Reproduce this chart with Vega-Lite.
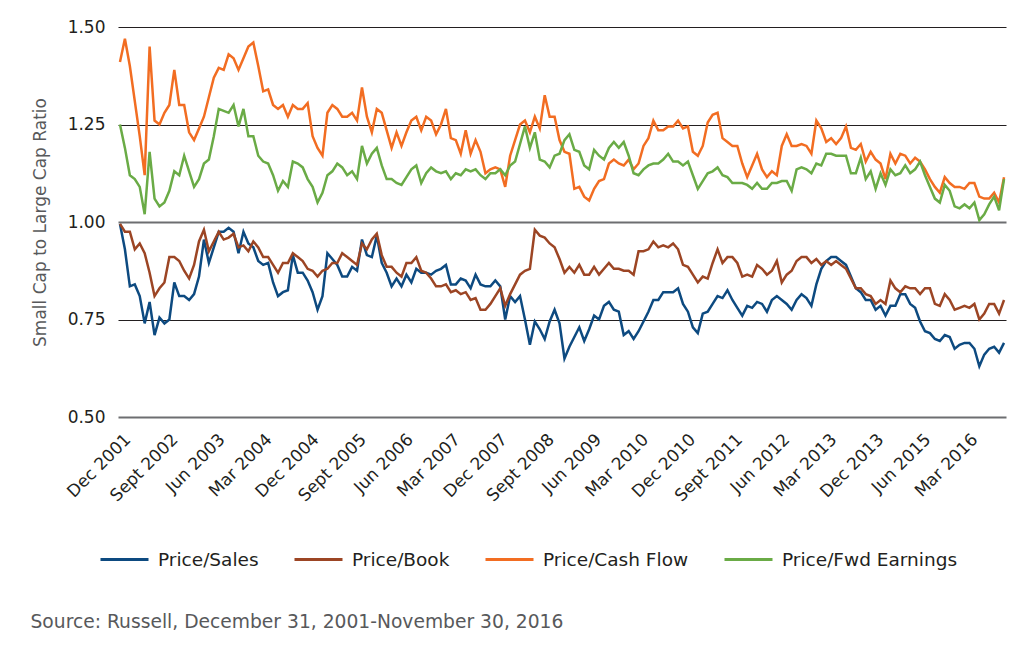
{
"$schema":"https://vega.github.io/schema/vega-lite/v6.json",
"width":888,"height":390,
"autosize":{"type":"none"},
"padding":{"left":118,"top":27,"right":18,"bottom":235},
"background":"white",
"config":{"view":{"stroke":null},"font":"DejaVu Sans"},
"datasets":{
"names":[{"k":"ps","series":"Price/Sales"},{"k":"pb","series":"Price/Book"},{"k":"pcf","series":"Price/Cash Flow"},{"k":"pfe","series":"Price/Fwd Earnings"}],
"monthly":[
{"i":0,"ps":0.995,"pb":0.995,"pcf":1.41,"pfe":1.25},
{"i":1,"ps":0.93,"pb":0.975,"pcf":1.47,"pfe":1.19},
{"i":2,"ps":0.835,"pb":0.975,"pcf":1.40,"pfe":1.12},
{"i":3,"ps":0.84,"pb":0.93,"pcf":1.31,"pfe":1.11},
{"i":4,"ps":0.81,"pb":0.945,"pcf":1.22,"pfe":1.09},
{"i":5,"ps":0.74,"pb":0.92,"pcf":1.12,"pfe":1.02},
{"i":6,"ps":0.795,"pb":0.87,"pcf":1.45,"pfe":1.18},
{"i":7,"ps":0.71,"pb":0.81,"pcf":1.26,"pfe":1.06},
{"i":8,"ps":0.755,"pb":0.83,"pcf":1.25,"pfe":1.04},
{"i":9,"ps":0.74,"pb":0.845,"pcf":1.28,"pfe":1.05},
{"i":10,"ps":0.75,"pb":0.91,"pcf":1.30,"pfe":1.08},
{"i":11,"ps":0.845,"pb":0.91,"pcf":1.39,"pfe":1.13},
{"i":12,"ps":0.81,"pb":0.90,"pcf":1.30,"pfe":1.12},
{"i":13,"ps":0.81,"pb":0.875,"pcf":1.30,"pfe":1.17},
{"i":14,"ps":0.80,"pb":0.855,"pcf":1.23,"pfe":1.13},
{"i":15,"ps":0.815,"pb":0.89,"pcf":1.21,"pfe":1.09},
{"i":16,"ps":0.86,"pb":0.95,"pcf":1.24,"pfe":1.11},
{"i":17,"ps":0.955,"pb":0.98,"pcf":1.27,"pfe":1.15},
{"i":18,"ps":0.895,"pb":0.925,"pcf":1.32,"pfe":1.16},
{"i":19,"ps":0.935,"pb":0.95,"pcf":1.37,"pfe":1.22},
{"i":20,"ps":0.975,"pb":0.975,"pcf":1.395,"pfe":1.29},
{"i":21,"ps":0.975,"pb":0.955,"pcf":1.39,"pfe":1.285},
{"i":22,"ps":0.985,"pb":0.96,"pcf":1.43,"pfe":1.28},
{"i":23,"ps":0.975,"pb":0.97,"pcf":1.42,"pfe":1.30},
{"i":24,"ps":0.92,"pb":0.935,"pcf":1.39,"pfe":1.245},
{"i":25,"ps":0.975,"pb":0.94,"pcf":1.42,"pfe":1.29},
{"i":26,"ps":0.945,"pb":0.925,"pcf":1.45,"pfe":1.22},
{"i":27,"ps":0.935,"pb":0.95,"pcf":1.46,"pfe":1.22},
{"i":28,"ps":0.90,"pb":0.935,"pcf":1.40,"pfe":1.17},
{"i":29,"ps":0.89,"pb":0.91,"pcf":1.335,"pfe":1.155},
{"i":30,"ps":0.895,"pb":0.91,"pcf":1.34,"pfe":1.15},
{"i":31,"ps":0.845,"pb":0.89,"pcf":1.30,"pfe":1.12},
{"i":32,"ps":0.81,"pb":0.87,"pcf":1.29,"pfe":1.08},
{"i":33,"ps":0.82,"pb":0.895,"pcf":1.30,"pfe":1.105},
{"i":34,"ps":0.825,"pb":0.895,"pcf":1.27,"pfe":1.09},
{"i":35,"ps":0.915,"pb":0.92,"pcf":1.30,"pfe":1.155},
{"i":36,"ps":0.87,"pb":0.91,"pcf":1.29,"pfe":1.15},
{"i":37,"ps":0.87,"pb":0.90,"pcf":1.29,"pfe":1.14},
{"i":38,"ps":0.85,"pb":0.88,"pcf":1.305,"pfe":1.11},
{"i":39,"ps":0.82,"pb":0.875,"pcf":1.22,"pfe":1.09},
{"i":40,"ps":0.775,"pb":0.86,"pcf":1.19,"pfe":1.05},
{"i":41,"ps":0.81,"pb":0.875,"pcf":1.17,"pfe":1.075},
{"i":42,"ps":0.92,"pb":0.88,"pcf":1.28,"pfe":1.12},
{"i":43,"ps":0.905,"pb":0.895,"pcf":1.30,"pfe":1.13},
{"i":44,"ps":0.89,"pb":0.895,"pcf":1.29,"pfe":1.15},
{"i":45,"ps":0.86,"pb":0.92,"pcf":1.27,"pfe":1.14},
{"i":46,"ps":0.86,"pb":0.91,"pcf":1.27,"pfe":1.12},
{"i":47,"ps":0.885,"pb":0.90,"pcf":1.28,"pfe":1.13},
{"i":48,"ps":0.875,"pb":0.89,"pcf":1.26,"pfe":1.11},
{"i":49,"ps":0.955,"pb":0.945,"pcf":1.345,"pfe":1.195},
{"i":50,"ps":0.915,"pb":0.93,"pcf":1.27,"pfe":1.15},
{"i":51,"ps":0.91,"pb":0.955,"pcf":1.23,"pfe":1.175},
{"i":52,"ps":0.965,"pb":0.97,"pcf":1.29,"pfe":1.19},
{"i":53,"ps":0.895,"pb":0.915,"pcf":1.28,"pfe":1.145},
{"i":54,"ps":0.87,"pb":0.885,"pcf":1.235,"pfe":1.11},
{"i":55,"ps":0.835,"pb":0.885,"pcf":1.19,"pfe":1.11},
{"i":56,"ps":0.855,"pb":0.87,"pcf":1.23,"pfe":1.10},
{"i":57,"ps":0.835,"pb":0.86,"pcf":1.195,"pfe":1.095},
{"i":58,"ps":0.865,"pb":0.895,"pcf":1.23,"pfe":1.115},
{"i":59,"ps":0.845,"pb":0.895,"pcf":1.26,"pfe":1.135},
{"i":60,"ps":0.88,"pb":0.91,"pcf":1.27,"pfe":1.145},
{"i":61,"ps":0.87,"pb":0.875,"pcf":1.235,"pfe":1.10},
{"i":62,"ps":0.87,"pb":0.87,"pcf":1.27,"pfe":1.125},
{"i":63,"ps":0.865,"pb":0.855,"pcf":1.26,"pfe":1.14},
{"i":64,"ps":0.875,"pb":0.835,"pcf":1.225,"pfe":1.13},
{"i":65,"ps":0.88,"pb":0.835,"pcf":1.25,"pfe":1.125},
{"i":66,"ps":0.89,"pb":0.84,"pcf":1.29,"pfe":1.13},
{"i":67,"ps":0.84,"pb":0.82,"pcf":1.215,"pfe":1.11},
{"i":68,"ps":0.84,"pb":0.825,"pcf":1.21,"pfe":1.125},
{"i":69,"ps":0.855,"pb":0.815,"pcf":1.175,"pfe":1.12},
{"i":70,"ps":0.85,"pb":0.82,"pcf":1.235,"pfe":1.135},
{"i":71,"ps":0.83,"pb":0.80,"pcf":1.175,"pfe":1.13},
{"i":72,"ps":0.865,"pb":0.805,"pcf":1.21,"pfe":1.135},
{"i":73,"ps":0.84,"pb":0.775,"pcf":1.18,"pfe":1.12},
{"i":74,"ps":0.835,"pb":0.775,"pcf":1.125,"pfe":1.11},
{"i":75,"ps":0.835,"pb":0.79,"pcf":1.135,"pfe":1.125},
{"i":76,"ps":0.85,"pb":0.81,"pcf":1.14,"pfe":1.125},
{"i":77,"ps":0.835,"pb":0.83,"pcf":1.135,"pfe":1.135},
{"i":78,"ps":0.75,"pb":0.785,"pcf":1.09,"pfe":1.12},
{"i":79,"ps":0.81,"pb":0.815,"pcf":1.17,"pfe":1.145},
{"i":80,"ps":0.795,"pb":0.84,"pcf":1.21,"pfe":1.155},
{"i":81,"ps":0.81,"pb":0.865,"pcf":1.25,"pfe":1.20},
{"i":82,"ps":0.75,"pb":0.875,"pcf":1.26,"pfe":1.245},
{"i":83,"ps":0.685,"pb":0.88,"pcf":1.23,"pfe":1.19},
{"i":84,"ps":0.745,"pb":0.98,"pcf":1.27,"pfe":1.23},
{"i":85,"ps":0.725,"pb":0.965,"pcf":1.24,"pfe":1.16},
{"i":86,"ps":0.70,"pb":0.96,"pcf":1.325,"pfe":1.155},
{"i":87,"ps":0.745,"pb":0.945,"pcf":1.27,"pfe":1.14},
{"i":88,"ps":0.775,"pb":0.935,"pcf":1.27,"pfe":1.17},
{"i":89,"ps":0.74,"pb":0.905,"pcf":1.21,"pfe":1.175},
{"i":90,"ps":0.65,"pb":0.87,"pcf":1.18,"pfe":1.21},
{"i":91,"ps":0.68,"pb":0.885,"pcf":1.175,"pfe":1.225},
{"i":92,"ps":0.705,"pb":0.87,"pcf":1.085,"pfe":1.185},
{"i":93,"ps":0.73,"pb":0.89,"pcf":1.09,"pfe":1.18},
{"i":94,"ps":0.695,"pb":0.865,"pcf":1.065,"pfe":1.145},
{"i":95,"ps":0.725,"pb":0.865,"pcf":1.055,"pfe":1.135},
{"i":96,"ps":0.76,"pb":0.885,"pcf":1.085,"pfe":1.185},
{"i":97,"ps":0.75,"pb":0.865,"pcf":1.105,"pfe":1.17},
{"i":98,"ps":0.785,"pb":0.88,"pcf":1.11,"pfe":1.16},
{"i":99,"ps":0.795,"pb":0.895,"pcf":1.15,"pfe":1.19},
{"i":100,"ps":0.775,"pb":0.88,"pcf":1.16,"pfe":1.205},
{"i":101,"ps":0.77,"pb":0.88,"pcf":1.15,"pfe":1.19},
{"i":102,"ps":0.71,"pb":0.875,"pcf":1.145,"pfe":1.205},
{"i":103,"ps":0.72,"pb":0.875,"pcf":1.16,"pfe":1.17},
{"i":104,"ps":0.70,"pb":0.865,"pcf":1.135,"pfe":1.125},
{"i":105,"ps":0.72,"pb":0.925,"pcf":1.15,"pfe":1.12},
{"i":106,"ps":0.745,"pb":0.925,"pcf":1.195,"pfe":1.135},
{"i":107,"ps":0.77,"pb":0.93,"pcf":1.215,"pfe":1.145},
{"i":108,"ps":0.80,"pb":0.95,"pcf":1.26,"pfe":1.15},
{"i":109,"ps":0.80,"pb":0.935,"pcf":1.235,"pfe":1.15},
{"i":110,"ps":0.82,"pb":0.94,"pcf":1.235,"pfe":1.16},
{"i":111,"ps":0.82,"pb":0.935,"pcf":1.245,"pfe":1.175},
{"i":112,"ps":0.82,"pb":0.945,"pcf":1.245,"pfe":1.155},
{"i":113,"ps":0.83,"pb":0.93,"pcf":1.26,"pfe":1.155},
{"i":114,"ps":0.79,"pb":0.89,"pcf":1.24,"pfe":1.145},
{"i":115,"ps":0.77,"pb":0.885,"pcf":1.245,"pfe":1.155},
{"i":116,"ps":0.73,"pb":0.865,"pcf":1.18,"pfe":1.12},
{"i":117,"ps":0.715,"pb":0.845,"pcf":1.17,"pfe":1.085},
{"i":118,"ps":0.765,"pb":0.86,"pcf":1.195,"pfe":1.105},
{"i":119,"ps":0.77,"pb":0.855,"pcf":1.255,"pfe":1.125},
{"i":120,"ps":0.79,"pb":0.895,"pcf":1.275,"pfe":1.13},
{"i":121,"ps":0.81,"pb":0.93,"pcf":1.28,"pfe":1.14},
{"i":122,"ps":0.805,"pb":0.895,"pcf":1.215,"pfe":1.12},
{"i":123,"ps":0.825,"pb":0.91,"pcf":1.205,"pfe":1.115},
{"i":124,"ps":0.80,"pb":0.91,"pcf":1.195,"pfe":1.10},
{"i":125,"ps":0.78,"pb":0.895,"pcf":1.195,"pfe":1.10},
{"i":126,"ps":0.76,"pb":0.86,"pcf":1.15,"pfe":1.10},
{"i":127,"ps":0.785,"pb":0.865,"pcf":1.115,"pfe":1.095},
{"i":128,"ps":0.78,"pb":0.86,"pcf":1.145,"pfe":1.085},
{"i":129,"ps":0.795,"pb":0.89,"pcf":1.175,"pfe":1.10},
{"i":130,"ps":0.79,"pb":0.88,"pcf":1.135,"pfe":1.085},
{"i":131,"ps":0.77,"pb":0.865,"pcf":1.115,"pfe":1.085},
{"i":132,"ps":0.80,"pb":0.875,"pcf":1.13,"pfe":1.10},
{"i":133,"ps":0.81,"pb":0.90,"pcf":1.12,"pfe":1.10},
{"i":134,"ps":0.80,"pb":0.845,"pcf":1.195,"pfe":1.105},
{"i":135,"ps":0.79,"pb":0.865,"pcf":1.225,"pfe":1.105},
{"i":136,"ps":0.775,"pb":0.875,"pcf":1.195,"pfe":1.08},
{"i":137,"ps":0.80,"pb":0.90,"pcf":1.195,"pfe":1.135},
{"i":138,"ps":0.815,"pb":0.91,"pcf":1.20,"pfe":1.14},
{"i":139,"ps":0.805,"pb":0.91,"pcf":1.195,"pfe":1.135},
{"i":140,"ps":0.785,"pb":0.895,"pcf":1.175,"pfe":1.125},
{"i":141,"ps":0.84,"pb":0.905,"pcf":1.26,"pfe":1.15},
{"i":142,"ps":0.88,"pb":0.89,"pcf":1.24,"pfe":1.145},
{"i":143,"ps":0.90,"pb":0.90,"pcf":1.205,"pfe":1.175},
{"i":144,"ps":0.91,"pb":0.89,"pcf":1.215,"pfe":1.175},
{"i":145,"ps":0.91,"pb":0.90,"pcf":1.20,"pfe":1.17},
{"i":146,"ps":0.90,"pb":0.89,"pcf":1.215,"pfe":1.17},
{"i":147,"ps":0.89,"pb":0.88,"pcf":1.245,"pfe":1.17},
{"i":148,"ps":0.86,"pb":0.855,"pcf":1.19,"pfe":1.125},
{"i":149,"ps":0.83,"pb":0.83,"pcf":1.185,"pfe":1.125},
{"i":150,"ps":0.82,"pb":0.83,"pcf":1.20,"pfe":1.165},
{"i":151,"ps":0.80,"pb":0.815,"pcf":1.155,"pfe":1.11},
{"i":152,"ps":0.80,"pb":0.81,"pcf":1.18,"pfe":1.13},
{"i":153,"ps":0.775,"pb":0.79,"pcf":1.16,"pfe":1.085},
{"i":154,"ps":0.785,"pb":0.80,"pcf":1.15,"pfe":1.125},
{"i":155,"ps":0.76,"pb":0.79,"pcf":1.11,"pfe":1.095},
{"i":156,"ps":0.785,"pb":0.85,"pcf":1.175,"pfe":1.135},
{"i":157,"ps":0.785,"pb":0.83,"pcf":1.15,"pfe":1.12},
{"i":158,"ps":0.815,"pb":0.82,"pcf":1.175,"pfe":1.125},
{"i":159,"ps":0.815,"pb":0.835,"pcf":1.17,"pfe":1.145},
{"i":160,"ps":0.79,"pb":0.83,"pcf":1.15,"pfe":1.125},
{"i":161,"ps":0.78,"pb":0.83,"pcf":1.165,"pfe":1.135},
{"i":162,"ps":0.745,"pb":0.815,"pcf":1.155,"pfe":1.155},
{"i":163,"ps":0.72,"pb":0.83,"pcf":1.135,"pfe":1.12},
{"i":164,"ps":0.715,"pb":0.83,"pcf":1.11,"pfe":1.09},
{"i":165,"ps":0.70,"pb":0.79,"pcf":1.09,"pfe":1.06},
{"i":166,"ps":0.695,"pb":0.785,"pcf":1.075,"pfe":1.05},
{"i":167,"ps":0.71,"pb":0.815,"pcf":1.115,"pfe":1.095},
{"i":168,"ps":0.705,"pb":0.80,"pcf":1.10,"pfe":1.08},
{"i":169,"ps":0.675,"pb":0.775,"pcf":1.09,"pfe":1.04},
{"i":170,"ps":0.685,"pb":0.78,"pcf":1.09,"pfe":1.035},
{"i":171,"ps":0.69,"pb":0.785,"pcf":1.085,"pfe":1.045},
{"i":172,"ps":0.69,"pb":0.78,"pcf":1.10,"pfe":1.035},
{"i":173,"ps":0.675,"pb":0.79,"pcf":1.10,"pfe":1.05},
{"i":174,"ps":0.63,"pb":0.75,"pcf":1.065,"pfe":1.005},
{"i":175,"ps":0.66,"pb":0.765,"pcf":1.06,"pfe":1.02},
{"i":176,"ps":0.675,"pb":0.79,"pcf":1.06,"pfe":1.045},
{"i":177,"ps":0.68,"pb":0.79,"pcf":1.075,"pfe":1.065},
{"i":178,"ps":0.665,"pb":0.765,"pcf":1.05,"pfe":1.03},
{"i":179,"ps":0.69,"pb":0.80,"pcf":1.115,"pfe":1.11}
]},
"data":{"name":"monthly"},
"transform":[
{"fold":["ps","pb","pcf","pfe"],"as":["k","v"]},
{"lookup":"k","from":{"data":{"name":"names"},"key":"k","fields":["series"]}}
],
"mark":{"type":"line","strokeWidth":2.5,"interpolate":"linear"},
"encoding":{
"x":{"field":"i","type":"quantitative","scale":{"domain":[-0.4,179.4],"nice":false,"zero":false},
"axis":{"values":[0.42,9.948,19.476,29.004,38.532,48.06,57.588,67.116,76.644,86.172,95.7,105.228,114.756,124.284,133.812,143.34,152.868,162.396,171.924],
"labelExpr":"['Dec 2001','Sept 2002','Jun 2003','Mar 2004','Dec 2004','Sept 2005','Jun 2006','Mar 2007','Dec 2007','Sept 2008','Jun 2009','Mar 2010','Dec 2010','Sept 2011','Jun 2012','Mar 2013','Dec 2013','Jun 2015','Mar 2016'][round(datum.value/9.528)]",
"labelAngle":-45,"labelAlign":"right","labelBaseline":"top","labelFont":"DejaVu Sans","labelFontSize":17,"labelColor":"#231f20","labelPadding":14,"labelOverlap":false,"labelFlush":false,"labelBound":false,
"ticks":false,"domain":false,"grid":false,
"title":"Source: Russell, December 31, 2001-November 30, 2016","titleFont":"DejaVu Sans","titleFontSize":18.7,"titleFontWeight":"normal","titleColor":"#58595b","titleX":-88,"titleY":210,"titleAlign":"left","titleBaseline":"alphabetic","titleAngle":0}},
"y":{"field":"v","type":"quantitative","scale":{"domain":[0.5,1.5],"nice":false,"zero":false},
"axis":{"values":[0.5,0.75,1,1.25,1.5],"format":".2f","labelFont":"DejaVu Sans","labelFontSize":17,"labelColor":"#231f20","labelPadding":13,"labelDy":2,
"ticks":false,"domain":false,"grid":true,"gridOpacity":1,
"gridColor":{"condition":{"test":"datum.value === 1 || datum.value === 0.5","value":"#6d6e71"},"value":"#231f20"},
"gridWidth":{"condition":{"test":"datum.value === 1 || datum.value === 0.5","value":2},"value":1.2},
"title":"Small Cap to Large Cap Ratio","titleFont":"DejaVu Sans","titleFontSize":17,"titleFontWeight":"normal","titleColor":"#58595b","titleX":-78,"titleY":195,"titleAngle":-90,"titleAlign":"center","titleBaseline":"middle"}},
"color":{"field":"series","type":"nominal",
"scale":{"domain":["Price/Sales","Price/Book","Price/Cash Flow","Price/Fwd Earnings"],"range":["#0d4a80","#9c4524","#f26d22","#6aab46"]},
"legend":{"orient":"none","legendX":-19,"legendY":507,"direction":"horizontal","title":null,"symbolType":"stroke","symbolSize":2304,"symbolStrokeWidth":3,"labelFont":"DejaVu Sans","labelFontSize":18.5,"labelColor":"#231f20","labelOffset":8,"columnPadding":29,"labelLimit":400,"padding":0}}
}
}
